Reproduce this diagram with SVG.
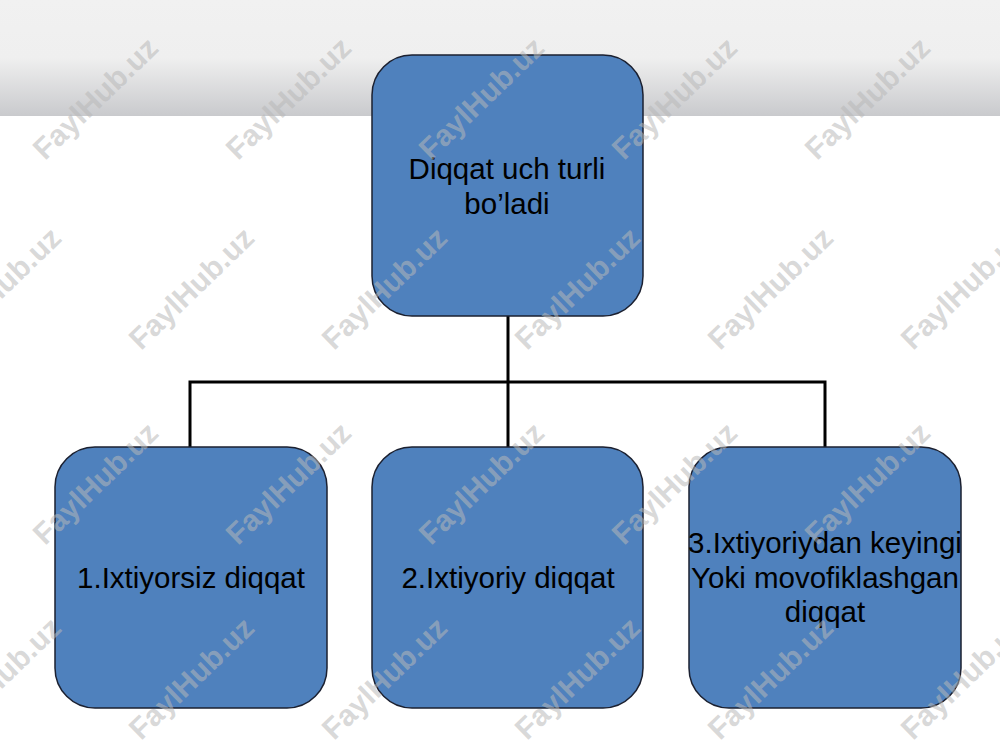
<svg xmlns="http://www.w3.org/2000/svg" width="1000" height="750" viewBox="0 0 1000 750">
<defs>
<linearGradient id="band" x1="0" y1="0" x2="0" y2="1">
<stop offset="0" stop-color="#f1f1f1"/>
<stop offset="0.5" stop-color="#efefef"/>
<stop offset="1" stop-color="#c9cacd"/>
</linearGradient>
</defs>
<style>
.box{fill:#4f81bd;stroke:#1b2030;stroke-width:1.5}
.lbl{font-family:"Liberation Sans",Arial,sans-serif;font-size:29.5px;fill:#000;text-anchor:middle}
.conn{fill:none;stroke:#000;stroke-width:3}
.wm{font-family:"Liberation Sans",Arial,sans-serif;font-weight:bold;font-size:30px;fill:#b8b8b8;fill-opacity:0.55;text-anchor:middle;dominant-baseline:middle}
</style>
<rect width="1000" height="750" fill="#fff"/>
<rect x="0" y="0" width="1000" height="116" fill="url(#band)"/>
<g id="connectors">
<path class="conn" d="M508 316 V447 M190 447 V382 H825 V447"/>
</g>
<g id="root">
<rect class="box" x="372" y="55" width="271" height="261" rx="40"/>
<text class="lbl" x="507" y="179">Diqqat uch turli</text>
<text class="lbl" x="507" y="214">bo’ladi</text>
</g>
<g id="n1">
<rect class="box" x="55" y="447" width="272" height="261" rx="40"/>
<text class="lbl" x="191" y="588">1.Ixtiyorsiz diqqat</text>
</g>
<g id="n2">
<rect class="box" x="372" y="447" width="271" height="261" rx="40"/>
<text class="lbl" x="508" y="588">2.Ixtiyoriy diqqat</text>
</g>
<g id="n3">
<rect class="box" x="689" y="447" width="272" height="261" rx="40"/>
<text class="lbl" x="825" y="553">3.Ixtiyoriydan keyingi</text>
<text class="lbl" x="825" y="588">Yoki movofiklashgan</text>
<text class="lbl" x="825" y="622">diqqat</text>
</g>
<g id="watermarks">
<text class="wm" transform="translate(97,100) rotate(-44)">FaylHub.uz</text>
<text class="wm" transform="translate(290,100) rotate(-44)">FaylHub.uz</text>
<text class="wm" transform="translate(483,100) rotate(-44)">FaylHub.uz</text>
<text class="wm" transform="translate(676,100) rotate(-44)">FaylHub.uz</text>
<text class="wm" transform="translate(869,100) rotate(-44)">FaylHub.uz</text>
<text class="wm" transform="translate(0,290) rotate(-44)">FaylHub.uz</text>
<text class="wm" transform="translate(193,290) rotate(-44)">FaylHub.uz</text>
<text class="wm" transform="translate(386,290) rotate(-44)">FaylHub.uz</text>
<text class="wm" transform="translate(579,290) rotate(-44)">FaylHub.uz</text>
<text class="wm" transform="translate(772,290) rotate(-44)">FaylHub.uz</text>
<text class="wm" transform="translate(965,290) rotate(-44)">FaylHub.uz</text>
<text class="wm" transform="translate(97,485) rotate(-44)">FaylHub.uz</text>
<text class="wm" transform="translate(290,485) rotate(-44)">FaylHub.uz</text>
<text class="wm" transform="translate(483,485) rotate(-44)">FaylHub.uz</text>
<text class="wm" transform="translate(676,485) rotate(-44)">FaylHub.uz</text>
<text class="wm" transform="translate(869,485) rotate(-44)">FaylHub.uz</text>
<text class="wm" transform="translate(0,680) rotate(-44)">FaylHub.uz</text>
<text class="wm" transform="translate(193,680) rotate(-44)">FaylHub.uz</text>
<text class="wm" transform="translate(386,680) rotate(-44)">FaylHub.uz</text>
<text class="wm" transform="translate(579,680) rotate(-44)">FaylHub.uz</text>
<text class="wm" transform="translate(772,680) rotate(-44)">FaylHub.uz</text>
<text class="wm" transform="translate(965,680) rotate(-44)">FaylHub.uz</text>
</g>
</svg>
